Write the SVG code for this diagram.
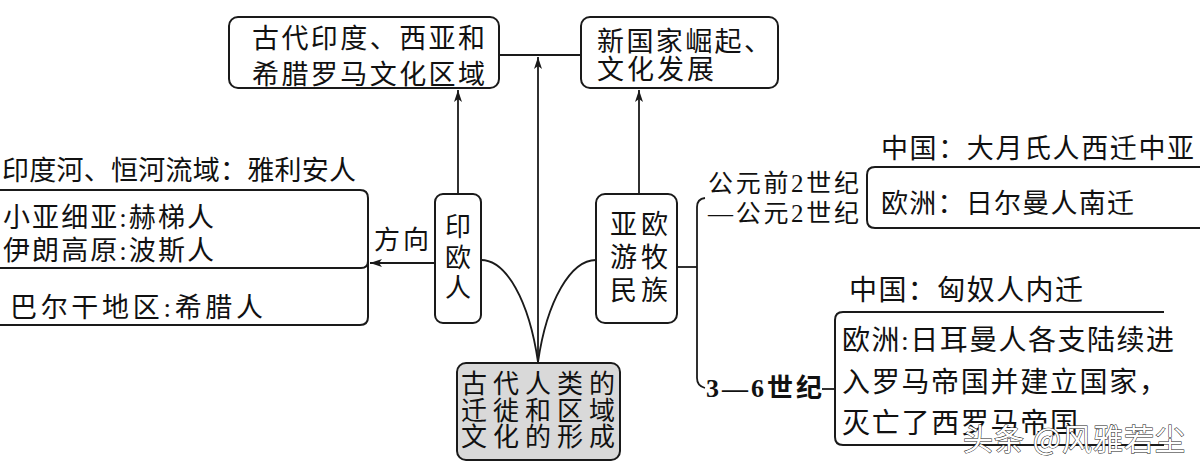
<svg xmlns="http://www.w3.org/2000/svg" width="1200" height="469" viewBox="0 0 1200 469">
<style>
  text { font-family: "Liberation Serif", "Noto Sans CJK SC", serif; fill: #111; }
  .box { fill: #fff; stroke: #1a1a1a; stroke-width: 2; }
  .gray { fill: #d9d9d9; stroke: #1a1a1a; stroke-width: 2; }
  .ln { fill: none; stroke: #1a1a1a; stroke-width: 1.8; }
  .br { fill: none; stroke: #1a1a1a; stroke-width: 2; }
  .f25 { font-size: 25px; }
  .f26 { font-size: 26px; }
  .f27 { font-size: 27px; }
  .f28 { font-size: 28px; }
  .wm { font-size: 30px; fill: #fff; stroke: #222; stroke-width: 1; paint-order: stroke; font-family: "Noto Sans CJK SC", sans-serif; }
</style>
<defs>
  <marker id="arr" markerUnits="userSpaceOnUse" markerWidth="14" markerHeight="10" refX="12" refY="4" orient="auto">
    <path d="M0,0 L12,4 L0,8 L3,4 Z" fill="#1a1a1a"/>
  </marker>
</defs>

<g id="connectors">
  <line class="ln" x1="499" y1="55" x2="581" y2="55"/>
  <line class="ln" x1="538" y1="363" x2="538" y2="57" marker-end="url(#arr)"/>
  <line class="ln" x1="458" y1="194" x2="458" y2="90" marker-end="url(#arr)"/>
  <line class="ln" x1="639" y1="194" x2="639" y2="90" marker-end="url(#arr)"/>
  <path class="ln" d="M481,260 C506,260 529,300 538,362"/>
  <path class="ln" d="M596,260 C571,260 547,300 538,362"/>
  <line class="ln" x1="435" y1="263" x2="370" y2="263" marker-end="url(#arr)"/>
  <line class="ln" x1="677" y1="267" x2="697" y2="267"/>
  <path class="ln" d="M705,198 Q697,199 697,207 L697,378 Q697,386 705,388"/>
  <line class="ln" x1="822" y1="389" x2="836" y2="389"/>
</g>

<g id="box-ancient-regions">
  <rect class="box" x="229" y="17" width="270" height="71" rx="9"/>
  <text class="f27"><tspan x="252" y="48" textLength="233" lengthAdjust="spacing">古代印度、西亚和</tspan><tspan x="252" y="84" textLength="233" lengthAdjust="spacing">希腊罗马文化区域</tspan></text>
</g>

<g id="box-new-states">
  <rect class="box" x="581" y="17" width="197" height="71" rx="9"/>
  <text class="f27"><tspan x="597" y="51" textLength="174" lengthAdjust="spacing">新国家崛起、</tspan><tspan x="597" y="79" textLength="117" lengthAdjust="spacing">文化发展</tspan></text>
</g>

<g id="box-indo-european">
  <rect class="box" x="435" y="194" width="46" height="129" rx="8"/>
  <text class="f26" text-anchor="middle"><tspan x="458" y="236">印</tspan><tspan x="458" y="267">欧</tspan><tspan x="458" y="297">人</tspan></text>
</g>

<g id="box-nomads">
  <rect class="box" x="596" y="194" width="81" height="129" rx="9"/>
  <text class="f27"><tspan x="610" y="234" textLength="58" lengthAdjust="spacing">亚欧</tspan><tspan x="610" y="267" textLength="58" lengthAdjust="spacing">游牧</tspan><tspan x="610" y="300" textLength="58" lengthAdjust="spacing">民族</tspan></text>
</g>

<g id="box-center">
  <rect class="gray" x="457" y="363" width="163" height="97" rx="9"/>
  <text class="f26"><tspan x="461" y="393" textLength="154" lengthAdjust="spacing">古代人类的</tspan><tspan x="461" y="420" textLength="154" lengthAdjust="spacing">迁徙和区域</tspan><tspan x="461" y="446" textLength="154" lengthAdjust="spacing">文化的形成</tspan></text>
</g>

<g id="label-direction">
  <text class="f26" x="374" y="249" textLength="55" lengthAdjust="spacing">方向</text>
</g>

<g id="left-list">
  <text class="f27" x="2" y="180" textLength="354" lengthAdjust="spacing">印度河、恒河流域：雅利安人</text>
  <path class="br" d="M0,190 L360,190 Q368,190 368,198 L368,317 Q368,325 360,325 L0,325"/>
  <path class="br" d="M0,268 L361,268 Q368,268 368,261"/>
  <text class="f27" x="3" y="227" textLength="211" lengthAdjust="spacing">小亚细亚:赫梯人</text>
  <text class="f27" x="3" y="260" textLength="211" lengthAdjust="spacing">伊朗高原:波斯人</text>
  <text class="f27" x="10" y="317" textLength="253" lengthAdjust="spacing">巴尔干地区:希腊人</text>
</g>

<g id="period-1">
  <text class="f25"><tspan x="708" y="192" textLength="151" lengthAdjust="spacing">公元前2世纪</tspan><tspan x="708" y="222" textLength="151" lengthAdjust="spacing">—公元2世纪</tspan></text>
</g>

<g id="box-period-1">
  <text class="f27" x="881" y="158" textLength="313" lengthAdjust="spacing">中国：大月氏人西迁中亚</text>
  <path class="br" d="M1200,167 L875,167 Q867,167 867,175 L867,220 Q867,228 875,228 L1200,228"/>
  <text class="f27" x="881" y="213" textLength="253" lengthAdjust="spacing">欧洲：日尔曼人南迁</text>
</g>

<g id="period-2">
  <text class="f26" x="706" y="397" font-weight="bold" textLength="116" lengthAdjust="spacing">3—6世纪</text>
</g>

<g id="box-period-2">
  <text class="f28" x="849" y="300" textLength="234" lengthAdjust="spacing">中国：匈奴人内迁</text>
  <path class="br" d="M1164,312 L843,312 Q835,312 835,320 L835,437 Q835,445 843,445 L1164,445"/>
  <text class="f28"><tspan x="842" y="350" textLength="332" lengthAdjust="spacing">欧洲:日耳曼人各支陆续进</tspan><tspan x="842" y="392" textLength="325" lengthAdjust="spacing">入罗马帝国并建立国家，</tspan><tspan x="842" y="433" textLength="236" lengthAdjust="spacing">灭亡了西罗马帝国</tspan></text>
</g>

<g id="watermark">
  <text class="wm" x="963" y="450" textLength="222" lengthAdjust="spacing">头条 @风雅若尘</text>
</g>
</svg>
